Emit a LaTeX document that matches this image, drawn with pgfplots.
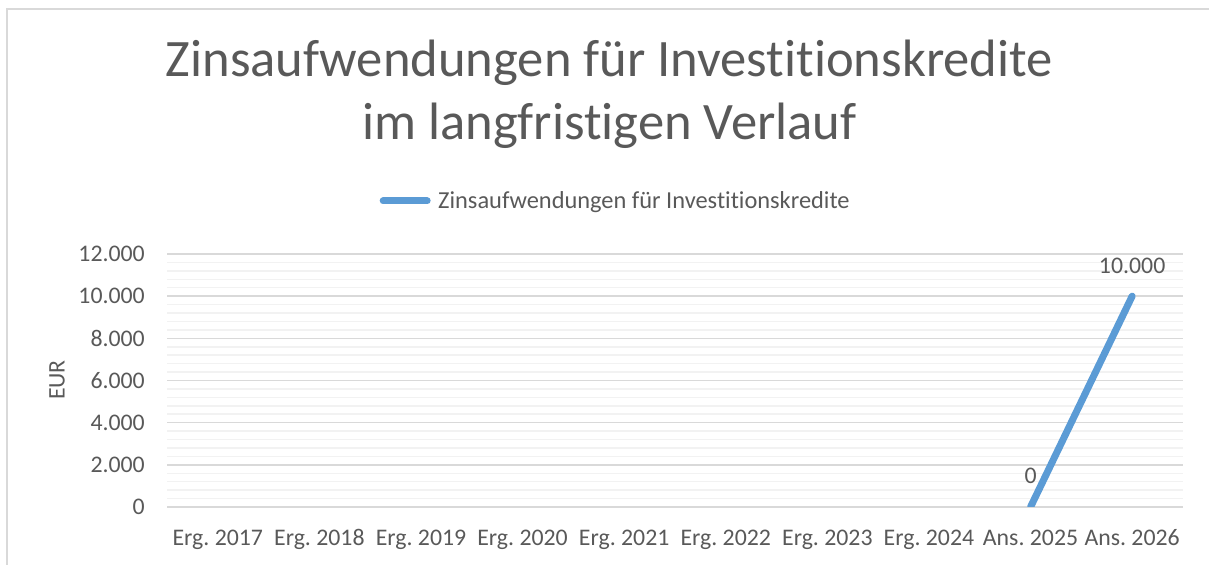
\documentclass[border=0pt]{standalone}
\usepackage{fontspec}
\setmainfont{Carlito}[RawFeature={-liga}]
\usepackage{pgfplots}
\pgfplotsset{compat=1.18}
\definecolor{txt}{HTML}{595959}
\definecolor{serie}{HTML}{5B9BD5}
\definecolor{grid}{HTML}{D9D9D9}
\definecolor{mgrid}{HTML}{F2F2F2}
\newcommand{\tickfont}{\frenchspacing\fontsize{23.8bp}{28bp}\selectfont}
\newcommand{\legfont}{\frenchspacing\fontsize{24.4bp}{29bp}\selectfont}
\frenchspacing
\begin{document}
\frenchspacing
\begin{tikzpicture}
\path[use as bounding box] (0,0) rectangle (1209bp,565bp);
\draw[color=grid, line width=2bp] (7bp,0) -- (7bp,556bp) -- (1209bp,556bp);
\begin{axis}[
  at={(167bp,58bp)}, anchor=south west,
  scale only axis, width=1016bp, height=253bp,
  xmin=-0.5, xmax=9.5, ymin=0, ymax=12000,
  xtick={0,...,9},
  xticklabels={Erg. 2017,Erg. 2018,Erg. 2019,Erg. 2020,Erg. 2021,Erg. 2022,Erg. 2023,Erg. 2024,Ans. 2025,Ans. 2026},
  ytick={0,2000,...,12000},
  minor y tick num=4,
  ymajorgrids, yminorgrids,
  major grid style={color=grid, line width=1.5bp},
  minor grid style={color=mgrid, line width=1.5bp},
  axis line style={draw=none},
  major tick length=0pt, minor tick length=0pt,
  tick style={draw=none},
  scaled y ticks=false,
  /pgf/number format/.cd, 1000 sep={.}, fixed, assume math mode=true, /pgfplots/.cd,
  tick label style={font=\tickfont, text=txt},
  yticklabel style={anchor=east, inner sep=0pt, xshift=-22bp},
  xticklabel style={anchor=base, inner sep=0pt, yshift=-39bp},
  ylabel={EUR},
  ylabel style={at={(axis description cs:-0.1083,0.502)}, anchor=center, font=\tickfont, text=txt, inner sep=0pt},
  title={Zinsaufwendungen für Investitionskredite\\im langfristigen Verlauf},
  title style={align=center, font=\fontsize{52.6bp}{63bp}\selectfont, text=txt, at={(axis description cs:0.4355,1.427)}, anchor=base, inner sep=0pt},
  legend style={at={(axis description cs:0.2057,1.2095)}, anchor=west, draw=none, fill=none, inner sep=0pt, font=\legfont, text=txt, nodes={inner sep=0pt}},
  legend image code/.code={\path (0bp,0bp) (55bp,0bp); \draw[line width=7bp, line cap=round] (3.5bp,0bp) -- (47.5bp,0bp);},
  point meta=y,
  nodes near coords,
  every node near coord/.append style={anchor=base, yshift=23bp, font=\tickfont, text=txt, inner sep=0pt},
]
\addplot[color=serie, line width=7bp, line cap=round] coordinates {(8,0) (9,10000)};
\addlegendentry{Zinsaufwendungen für Investitionskredite}
\end{axis}
\end{tikzpicture}
\end{document}
